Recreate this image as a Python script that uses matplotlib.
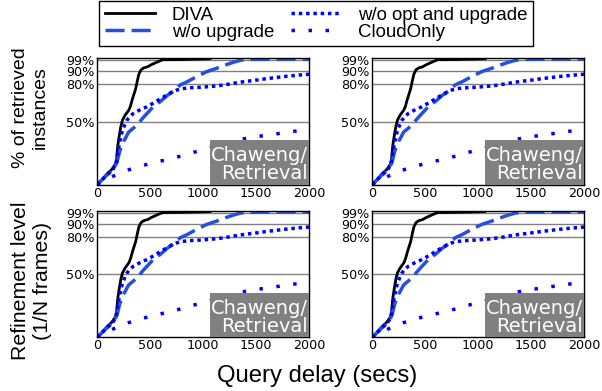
import matplotlib
matplotlib.use("Agg")
import matplotlib.pyplot as plt
from matplotlib.patches import Rectangle

# CDF curves (query delay in secs, % of instances)
diva_t = [0, 40, 95, 140, 173, 185, 195, 205, 225, 240, 265, 300, 315, 335, 350,
          365, 380, 395, 415, 440, 480, 510, 550, 590, 620, 800, 1000, 1066]
diva_p = [0, 3, 8.5, 12, 16, 20, 30, 36, 46, 51, 55, 59, 62, 68, 72,
          76, 82, 87.5, 91, 92.5, 93.5, 95, 96.5, 98, 99, 99.2, 99.6, 99.8]

noup_t = [0, 50, 100, 150, 180, 190, 210, 236, 270, 298, 340, 377, 410, 440, 490,
          534, 600, 660, 720, 785, 850, 911, 970, 1036, 1128, 1200, 1286, 1350,
          1411, 1600, 2000]
noup_p = [0, 4, 8, 12, 16, 18, 25, 32, 37, 41.5, 44.5, 47, 50.5, 53.5, 58,
          62, 66, 70.5, 74, 79, 81.5, 84.3, 86.9, 89.6, 92.2, 94.5, 97, 98.5,
          99.3, 99.4, 99.5]

noopt_t = [0, 50, 100, 150, 180, 195, 215, 236, 260, 283, 310, 345, 400, 471, 540,
           628, 700, 754, 800, 870, 942, 1000, 1100, 1200, 1300, 1400, 1500, 1600,
           1700, 1800, 1900, 2000]
noopt_p = [0, 4, 8, 12, 16, 25, 34, 41.5, 47, 51, 54, 56.5, 59, 61.7, 65,
           69.5, 73, 75, 76, 76.7, 77, 77.3, 78, 79, 80.5, 81.8, 82.8, 84,
           85, 86, 86.8, 87.5]

cloud_t = [0, 100, 200, 300, 400, 500, 600, 700, 800, 900, 1000, 1100, 1200,
           1300, 1400, 1500, 1600, 1700, 1800, 1900, 2000]
cloud_p = [0, 4.5, 8.5, 11.7, 14.3, 16.6, 18.6, 20.5, 22.8, 25.3, 27.5, 29.8, 32,
           34.5, 36.5, 38, 39, 40.3, 41.5, 42.7, 44]

yticks = [50, 80, 90, 99]
ytick_labels = ["50%", "80%", "90%", "99%"]
xticks = [0, 500, 1000, 1500, 2000]

LABEL_FONT = "Liberation Sans"


def draw_panel(ax):
    ax.plot(diva_t, diva_p, color="black", lw=2, label="DIVA")
    ax.plot(noup_t, noup_p, color="#2450e0", lw=2.5, ls=(0, (5.5, 2)),
            label="w/o upgrade")
    ax.plot(noopt_t, noopt_p, color="blue", lw=2.5, ls=(0, (1, 1.1)),
            label="w/o opt and upgrade")
    ax.plot(cloud_t, cloud_p, color="blue", lw=2.5, ls=(0, (1, 3.9)),
            label="CloudOnly")

    ax.set_xlim(0, 2000)
    ax.set_ylim(0, 100)
    ax.set_xticks(xticks)
    ax.set_yticks(yticks)
    ax.set_yticklabels(ytick_labels)
    ax.tick_params(length=0, labelsize=9.2, pad=1.5)
    ax.yaxis.grid(True, color="gray", lw=1)
    ax.set_axisbelow(True)
    for s in ax.spines.values():
        s.set_color("black")
        s.set_linewidth(1)

    # gray tag in the lower right corner
    ax.add_patch(Rectangle((0.533, 0), 0.467, 0.35, transform=ax.transAxes,
                           facecolor="gray", edgecolor="none", zorder=3))
    ax.text(0.997, 0.01, "Chaweng/\nRetrieval", transform=ax.transAxes,
            ha="right", va="bottom", color="white", fontsize=14,
            linespacing=0.95, zorder=4)


def main():
    fig = plt.figure(figsize=(6.02, 3.91), dpi=100)

    w, h = 0.3522, 0.3223
    lefts = [0.1611, 0.6179]
    bottoms = [0.5281, 0.1373]
    axes = []
    for b in bottoms:
        for l in lefts:
            ax = fig.add_axes([l, b, w, h])
            draw_panel(ax)
            axes.append(ax)

    fig.text(0.0507, 0.725, "% of retrieved\ninstances", rotation=90,
             ha="center", va="center", multialignment="center",
             fontsize=14, family=LABEL_FONT)
    fig.text(0.0527, 0.281, "Refinement level\n(1/N frames)", rotation=90,
             ha="center", va="center", multialignment="center",
             fontsize=15.3, family=LABEL_FONT)
    fig.text(0.5266, 0.0396, "Query delay (secs)", ha="center", va="center",
             fontsize=17.2, family=LABEL_FONT)

    handles, labels = axes[0].get_legend_handles_labels()
    fig.legend(handles, labels, loc="upper center", ncol=2,
               bbox_to_anchor=(316 / 602, 1 - 1 / 391),
               prop={"family": LABEL_FONT, "size": 13.4},
               frameon=True, fancybox=False, edgecolor="black", framealpha=1,
               handlelength=2.7, handletextpad=0.9, columnspacing=0.9,
               labelspacing=0.0, borderpad=0.3, borderaxespad=0)

    fig.savefig("out.png", dpi=100)


if __name__ == "__main__":
    main()
